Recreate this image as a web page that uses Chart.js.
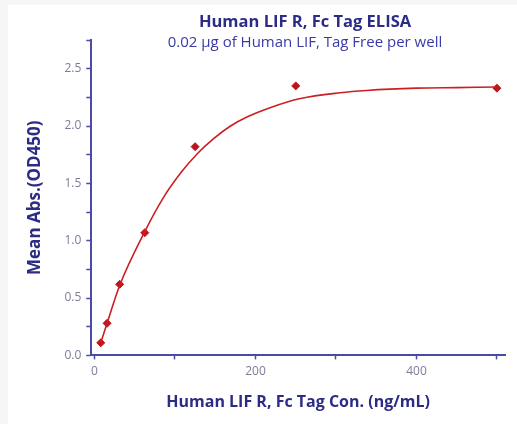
<!DOCTYPE html>
<html>
<head>
<meta charset="utf-8">
<script src="https://cdn.jsdelivr.net/npm/chart.js@4.4.1/dist/chart.umd.min.js"></script>
<style>
    body { margin: 0; background: #f6f6f6; position: relative; }
    #wrap { padding: 5px 0 0 8px; width: 509px; height: 419px; }
    canvas { background: #ffffff; display: block; }
    .ttl {
        position: absolute;
        left: 305px;
        transform: translateX(-50%);
        white-space: nowrap;
        font-family: 'Open Sans', sans-serif;
    }
    #mainTitle { top: 11px; line-height: 20px; font-size: 16.5px; font-weight: bold; color: #2c2c86; }
    #subTitle { top: 32px; line-height: 18px; font-size: 15px; color: #3a3aa6; }
</style>
</head>
<body>
<div id="wrap"><canvas id="elisaChart" width="509" height="419"></canvas></div>
<div class="ttl" id="mainTitle">Human LIF R, Fc Tag ELISA</div>
<div class="ttl" id="subTitle">0.02 μg of Human LIF, Tag Free per well</div>
<script>
// measured points (ng/mL vs OD450)
const concentrations = [7.8, 15.6, 31.25, 62.5, 125, 250, 500];
const absorbance = [0.11, 0.28, 0.62, 1.07, 1.82, 2.35, 2.33];

// fitted curve
const fitX = [7.8, 15.6, 31.25, 62.5, 86, 107, 128, 148, 169, 190, 218, 256, 305, 338, 400, 450, 500];
const fitY = [0.11, 0.28, 0.61, 1.08, 1.38, 1.59, 1.76, 1.89, 2.00, 2.08, 2.16, 2.24, 2.29, 2.31, 2.33, 2.335, 2.34];

const xTicks = [0, 100, 200, 300, 400, 500];
const xLabelled = [0, 200, 400];
const yTicks = [0, 0.25, 0.5, 0.75, 1, 1.25, 1.5, 1.75, 2, 2.25, 2.5, 2.75];
const yLabelled = [0, 0.5, 1, 1.5, 2, 2.5];

const navy = '#2c2c86';
const axisBlue = '#4b4ba6';
const tickGrey = '#7c7c98';
const red = '#cc1f24';

document.addEventListener('DOMContentLoaded', function () {
    const ctx = document.getElementById('elisaChart').getContext('2d');

    const fitData = fitX.map((x, i) => ({ x: x, y: fitY[i] }));
    const pointData = concentrations.map((x, i) => ({ x: x, y: absorbance[i] }));

    new Chart(ctx, {
        type: 'scatter',
        data: {
            datasets: [{
                label: 'fit',
                data: fitData,
                showLine: true,
                borderColor: red,
                borderWidth: 1.6,
                pointRadius: 0,
                cubicInterpolationMode: 'monotone',
                fill: false
            }, {
                label: 'data',
                data: pointData,
                pointStyle: 'rectRot',
                pointRadius: 4,
                backgroundColor: '#c0141c',
                borderColor: '#c0141c',
                showLine: false
            }]
        },
        options: {
            responsive: false,
            animation: false,
            layout: {
                padding: { left: 17, right: 12, top: 35, bottom: 12 }
            },
            plugins: {
                legend: { display: false },
                tooltip: { enabled: false }
            },
            scales: {
                x: {
                    type: 'linear',
                    min: -4,
                    max: 510,
                    afterBuildTicks: function (axis) {
                        axis.ticks = xTicks.map(v => ({ value: v }));
                    },
                    ticks: {
                        color: tickGrey,
                        font: { family: 'Open Sans', size: 12 },
                        padding: 5,
                        maxRotation: 0,
                        autoSkip: false,
                        callback: function (value) {
                            return xLabelled.includes(value) ? String(value) : '';
                        }
                    },
                    grid: {
                        drawOnChartArea: false,
                        color: axisBlue,
                        tickLength: 4,
                        tickWidth: 1.5
                    },
                    border: { color: axisBlue, width: 2 },
                    title: {
                        display: true,
                        text: 'Human LIF R, Fc Tag Con. (ng/mL)',
                        color: navy,
                        font: { family: 'Open Sans', size: 16, weight: 'bold' },
                        padding: { top: 9, bottom: 0 }
                    }
                },
                y: {
                    type: 'linear',
                    min: 0,
                    max: 2.75,
                    afterBuildTicks: function (axis) {
                        axis.ticks = yTicks.map(v => ({ value: v }));
                    },
                    ticks: {
                        color: tickGrey,
                        font: { family: 'Open Sans', size: 12 },
                        padding: 5,
                        autoSkip: false,
                        callback: function (value) {
                            return yLabelled.includes(value) ? value.toFixed(1) : '';
                        }
                    },
                    grid: {
                        drawOnChartArea: false,
                        color: axisBlue,
                        tickLength: 5,
                        tickWidth: 1.5
                    },
                    border: { color: axisBlue, width: 2 },
                    title: {
                        display: true,
                        text: 'Mean Abs.(OD450)',
                        color: navy,
                        font: { family: 'Open Sans', size: 17, weight: 'bold' },
                        padding: { top: 0, bottom: 14 }
                    }
                }
            }
        }
    });
});
</script>
</body>
</html>
